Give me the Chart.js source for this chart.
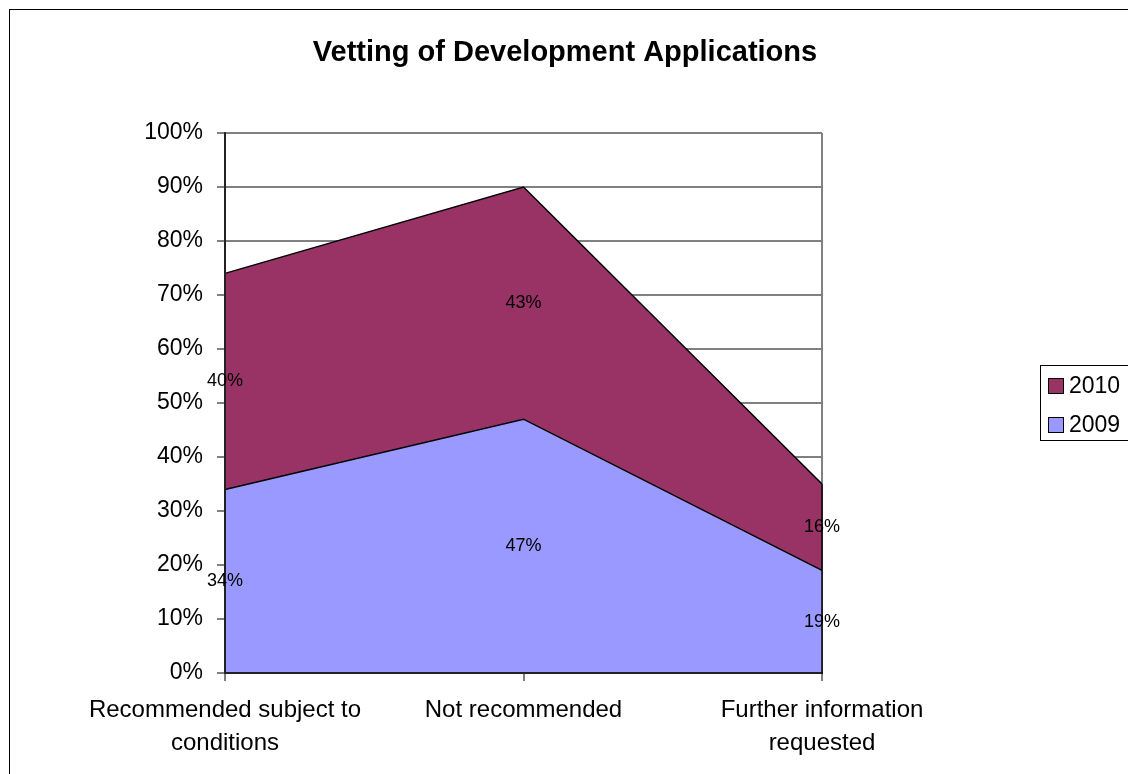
<!DOCTYPE html>
<html>
<head>
<meta charset="utf-8">
<title>Vetting of Development Applications</title>
<script src="https://cdn.jsdelivr.net/npm/chart.js@4/dist/chart.umd.min.js"></script>
<style>
  body { margin: 0; background: #fff; }
  canvas { display: block; }
</style>
</head>
<body>
<canvas id="chart" width="1128" height="774"></canvas>
<script>
// ------------------ Data ------------------
const categories = [["Recommended subject to", "conditions"], "Not recommended", ["Further information", "requested"]];
const values2009 = [34, 47, 19];
const values2010 = [40, 43, 16];
const yTicks = [0, 10, 20, 30, 40, 50, 60, 70, 80, 90, 100];

const FONT = "'Liberation Sans', Arial, sans-serif";

// ------------------ Frame, title, legend, labels ------------------
const decorPlugin = {
  id: "decor",
  beforeDraw(chart) {
    const ctx = chart.ctx;
    ctx.save();
    ctx.fillStyle = "#fff";
    ctx.fillRect(0, 0, chart.width, chart.height);
    ctx.strokeStyle = "#000";
    ctx.lineWidth = 1;
    ctx.strokeRect(9.5, 9.5, 1300, 1000);
    ctx.font = "bold 29px " + FONT;
    ctx.fillStyle = "#000";
    ctx.textAlign = "center";
    ctx.textBaseline = "alphabetic";
    ctx.fillText("Vetting of Development Applications", 565, 61);
    ctx.restore();
  },
  beforeDatasetsDraw(chart) {
    // gray plot-area border on the right
    const { ctx, chartArea } = chart;
    ctx.save();
    ctx.strokeStyle = "#808080";
    ctx.lineWidth = 2;
    ctx.beginPath();
    ctx.moveTo(Math.round(chartArea.right), chartArea.top);
    ctx.lineTo(Math.round(chartArea.right), chartArea.bottom);
    ctx.stroke();
    ctx.restore();
  },
  afterDatasetsDraw(chart) {
    // axis lines and the area's right edge on top of the fills
    const { ctx, chartArea } = chart;
    const yScale = chart.scales.y;
    const last = values2009.length - 1;
    const topY = yScale.getPixelForValue(values2009[last] + values2010[last]);
    ctx.save();
    ctx.strokeStyle = "#222";
    ctx.lineWidth = 2;
    ctx.beginPath();
    ctx.moveTo(Math.round(chartArea.left), chartArea.top);
    ctx.lineTo(Math.round(chartArea.left), Math.round(chartArea.bottom));
    ctx.lineTo(Math.round(chartArea.right), Math.round(chartArea.bottom));
    ctx.stroke();
    ctx.lineWidth = 1.5;
    ctx.strokeStyle = "#000";
    ctx.beginPath();
    ctx.moveTo(Math.round(chartArea.right), topY);
    ctx.lineTo(Math.round(chartArea.right), chartArea.bottom);
    ctx.stroke();
    ctx.restore();
  },
  afterDraw(chart) {
    const ctx = chart.ctx;
    const yScale = chart.scales.y;
    ctx.save();
    // data labels in the middle of each band
    ctx.font = "18px " + FONT;
    ctx.fillStyle = "#000";
    ctx.textAlign = "center";
    ctx.textBaseline = "middle";
    const base = [0, 0, 0];
    chart.data.datasets.forEach((ds, i) => {
      const meta = chart.getDatasetMeta(i);
      ds.data.forEach((v, j) => {
        const mid = base[j] + v / 2;
        const x = meta.data[j].x;
        ctx.fillText(v + "%", x, yScale.getPixelForValue(mid));
        base[j] += v;
      });
    });

    // legend (top series first)
    const lx = 1040, ly = 365;
    ctx.strokeStyle = "#000";
    ctx.lineWidth = 1;
    ctx.strokeRect(lx + 0.5, ly + 0.5, 200, 75);
    ctx.font = "23px " + FONT;
    ctx.textAlign = "left";
    const items = chart.data.datasets.slice().reverse();
    items.forEach((ds, k) => {
      const cy = ly + 21 + k * 39;
      ctx.fillStyle = ds.backgroundColor;
      ctx.fillRect(lx + 8, cy - 8, 16, 16);
      ctx.strokeRect(lx + 8.5, cy - 7.5, 15, 15);
      ctx.fillStyle = "#000";
      ctx.fillText(ds.label, lx + 29, cy + 1);
    });
    ctx.restore();
  }
};

// ------------------ Chart ------------------
new Chart(document.getElementById("chart"), {
  type: "line",
  data: {
    labels: categories,
    datasets: [
      {
        label: "2009",
        data: values2009,
        backgroundColor: "#9999FF",
        borderColor: "#000",
        borderWidth: 1.5,
        fill: "origin",
        pointRadius: 0,
        tension: 0
      },
      {
        label: "2010",
        data: values2010,
        backgroundColor: "#993366",
        borderColor: "#000",
        borderWidth: 1.5,
        fill: "-1",
        pointRadius: 0,
        tension: 0
      }
    ]
  },
  options: {
    responsive: false,
    animation: false,
    layout: { padding: { left: 0, top: 133, right: 306, bottom: 0 } },
    plugins: {
      legend: { display: false },
      title: { display: false },
      tooltip: { enabled: false }
    },
    scales: {
      x: {
        offset: false,
        grid: { drawOnChartArea: false, color: "#808080", tickLength: 8, lineWidth: 2 },
        border: { color: "#000", width: 2 },
        ticks: { color: "#000", font: { family: FONT, size: 24, lineHeight: 1.375 }, padding: 13, maxRotation: 0, autoSkip: false },
        afterFit(scale) { scale.height = 101; }
      },
      y: {
        stacked: true,
        min: 0,
        max: 100,
        afterBuildTicks(scale) { scale.ticks = yTicks.map(v => ({ value: v })); },
        grid: { color: "#808080", tickLength: 8, lineWidth: 2 },
        border: { color: "#333", width: 2 },
        ticks: { color: "#000", font: { family: FONT, size: 23 }, padding: 14, callback: v => v + "%" },
        afterFit(scale) { scale.width = 225; }
      }
    }
  },
  plugins: [decorPlugin]
});
</script>
</body>
</html>
